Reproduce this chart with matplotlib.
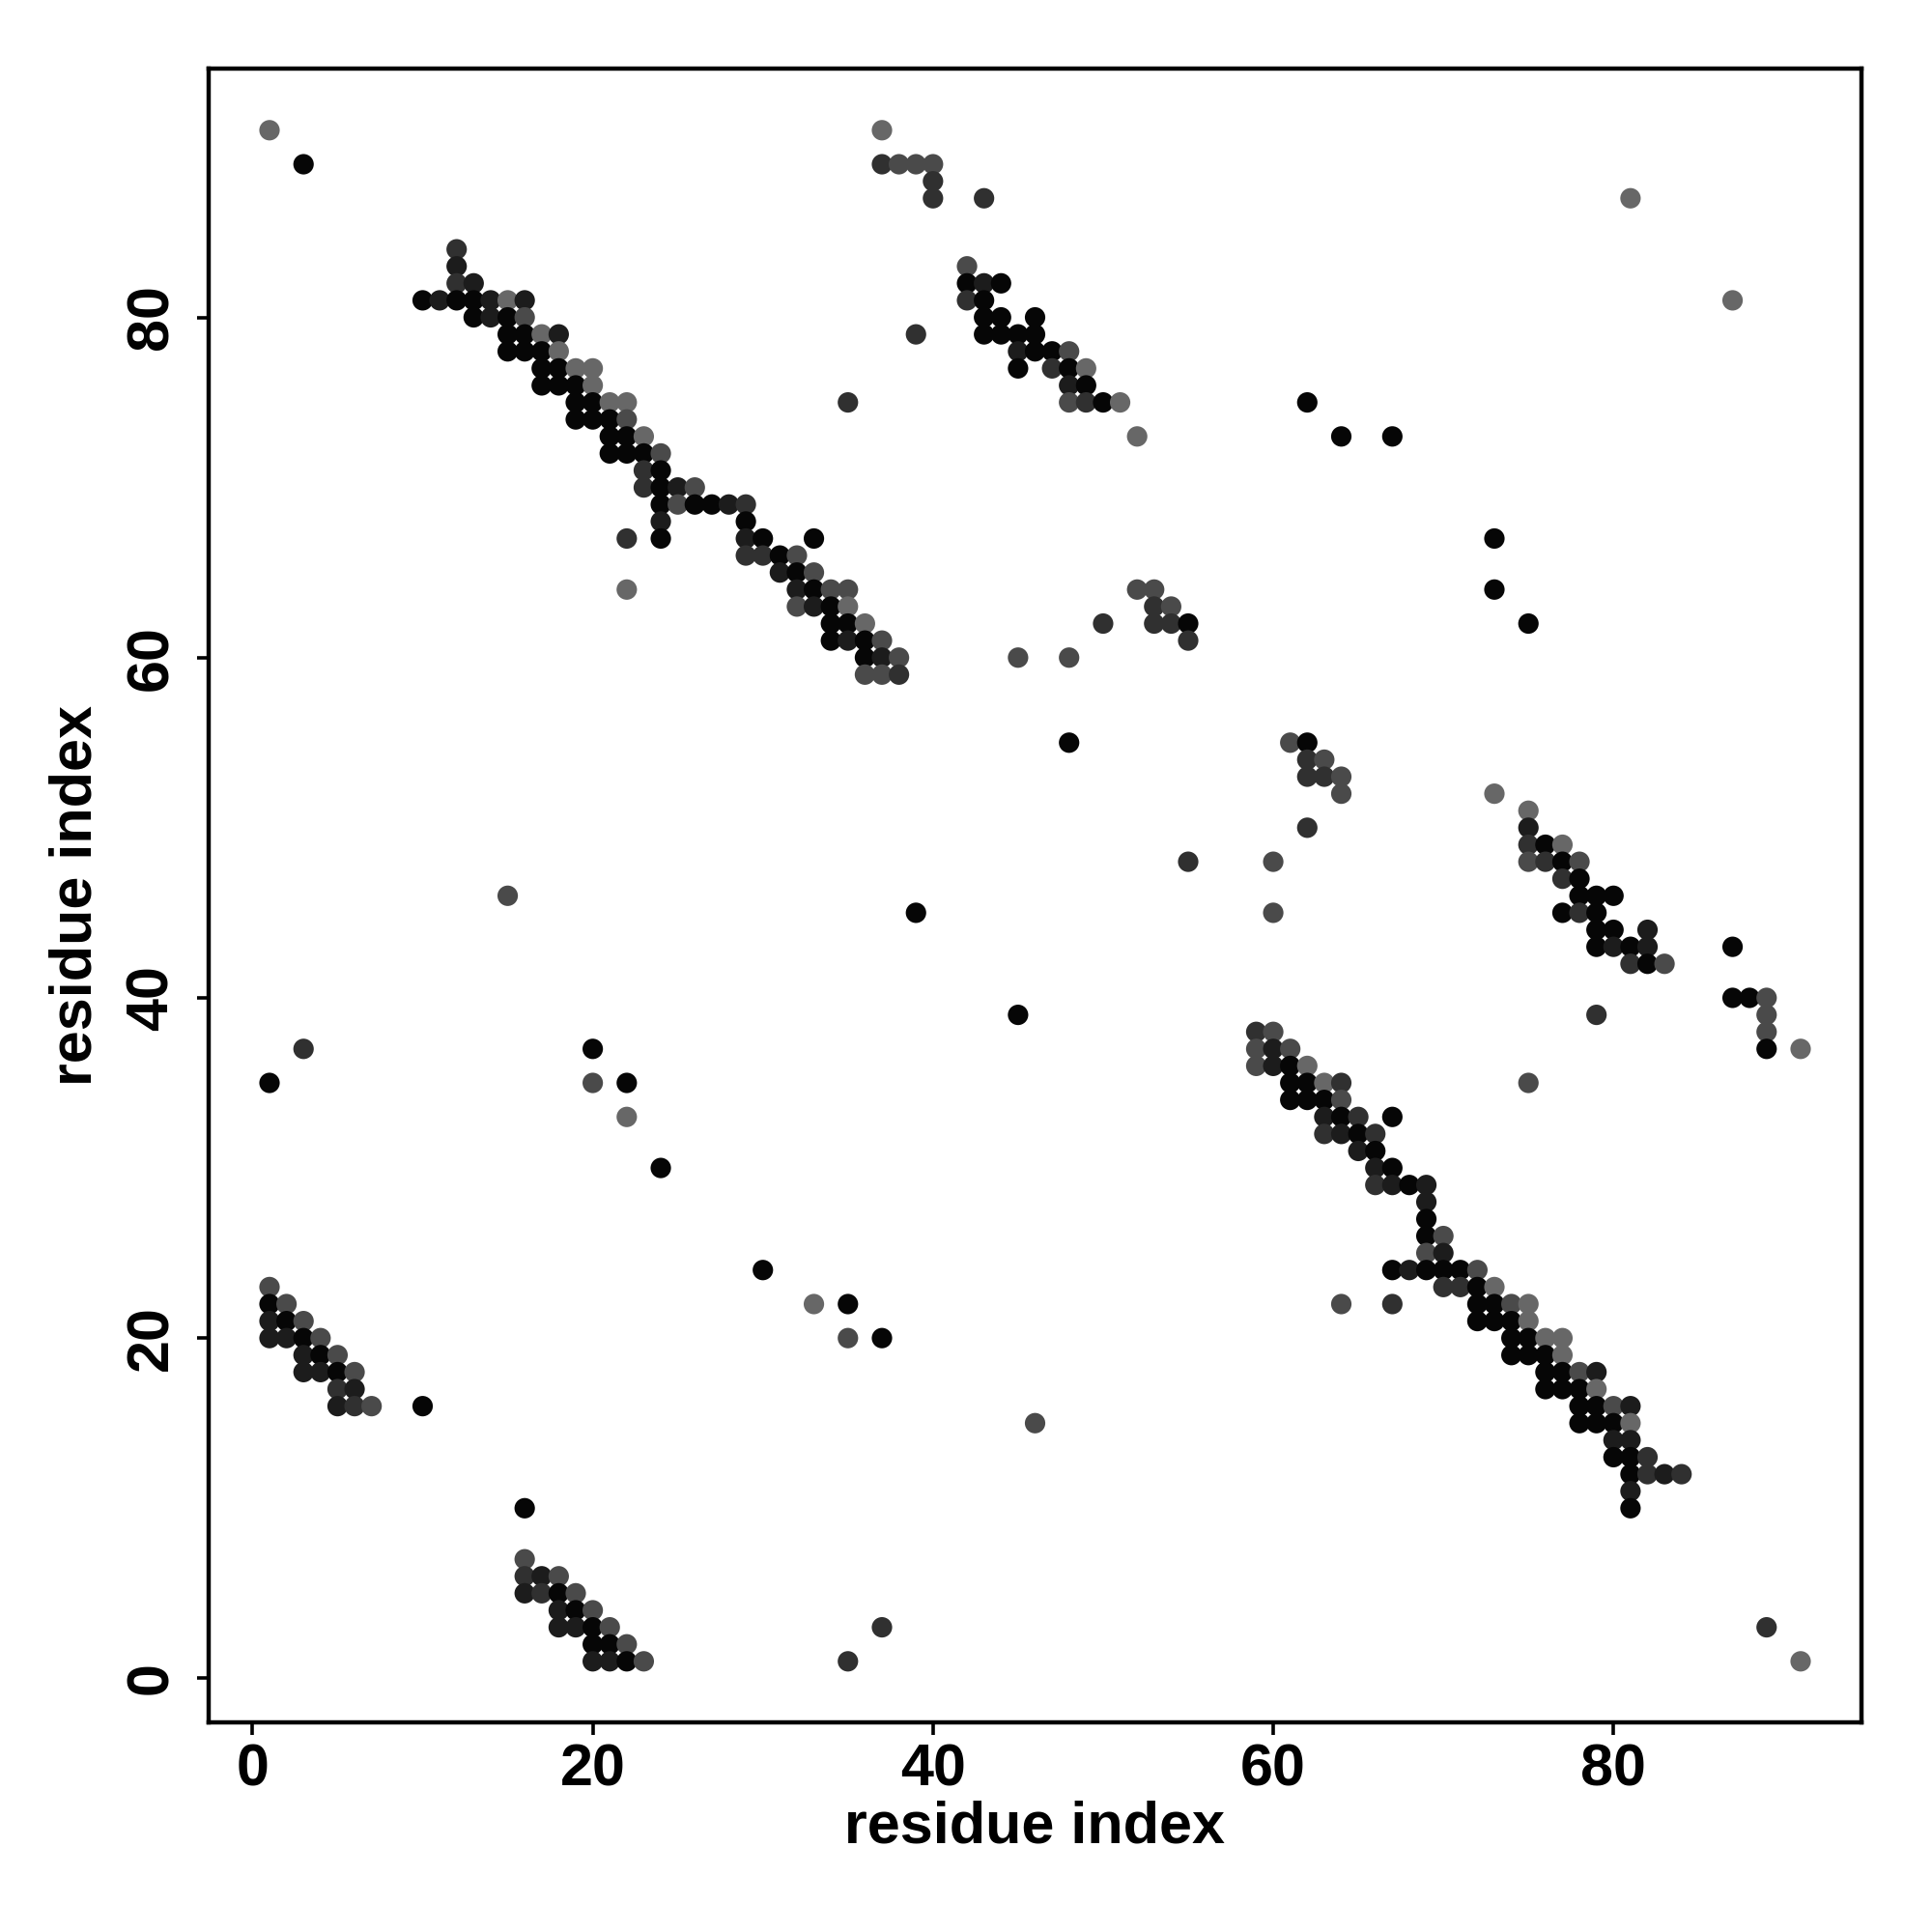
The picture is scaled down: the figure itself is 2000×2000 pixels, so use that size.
import matplotlib
matplotlib.use("Agg")
import matplotlib.pyplot as plt

plt.rcParams['font.family'] = ['Liberation Sans', 'DejaVu Sans']
plt.rcParams['font.weight'] = 'bold'

# grey levels used for the contact points (0 = black ... 4 = light grey)
level_colors = ['#060606', '#1c1c1c', '#303030', '#4a4a4a', '#676767']

# contacts as (i, j, level)
# upper-left band
band_a = [
    (12, 84, 2), (12, 83, 1), (12, 82, 2), (13, 82, 1),
    (10, 81, 0), (11, 81, 1), (12, 81, 0), (13, 81, 0), (14, 81, 1), (15, 81, 4), (16, 81, 1),
    (13, 80, 0), (14, 80, 1), (15, 80, 0), (16, 80, 3),
    (15, 79, 0), (16, 79, 0), (17, 79, 4), (18, 79, 1),
    (15, 78, 0), (16, 78, 0), (17, 78, 0), (18, 78, 4),
    (17, 77, 0), (18, 77, 0), (19, 77, 4), (20, 77, 4),
    (17, 76, 0), (18, 76, 0), (19, 76, 0), (20, 76, 4),
    (19, 75, 0), (20, 75, 0), (21, 75, 4), (22, 75, 4),
    (19, 74, 0), (20, 74, 0), (21, 74, 0), (22, 74, 3),
    (21, 73, 0), (22, 73, 0), (23, 73, 4),
    (21, 72, 0), (22, 72, 0), (23, 72, 0), (24, 72, 3),
    (23, 71, 2), (24, 71, 0),
    (23, 70, 2), (24, 70, 0), (25, 70, 1), (26, 70, 3),
    (24, 69, 0), (25, 69, 3), (26, 69, 0), (27, 69, 0), (28, 69, 1), (29, 69, 2),
    (24, 68, 1), (29, 68, 0),
    (22, 67, 2), (24, 67, 0), (29, 67, 1), (30, 67, 0), (33, 67, 0),
    (29, 66, 2), (30, 66, 2), (31, 66, 0), (32, 66, 3),
    (31, 65, 1), (32, 65, 0), (33, 65, 3),
    (22, 64, 4), (32, 64, 1), (33, 64, 0), (34, 64, 3), (35, 64, 3),
    (32, 63, 3), (33, 63, 1), (34, 63, 0), (35, 63, 4),
    (34, 62, 0), (35, 62, 0), (36, 62, 4),
    (34, 61, 0), (35, 61, 1), (36, 61, 0), (37, 61, 3),
    (36, 60, 0), (37, 60, 1), (38, 60, 3),
    (36, 59, 3), (37, 59, 3), (38, 59, 2),
]

# top middle band
band_b = [
    (37, 91, 4),
    (37, 89, 2), (38, 89, 3), (39, 89, 3), (40, 89, 3),
    (40, 88, 2), (40, 87, 2), (43, 87, 2),
    (42, 83, 3),
    (42, 82, 0), (43, 82, 1), (44, 82, 0),
    (42, 81, 2), (43, 81, 0),
    (43, 80, 0), (44, 80, 0), (46, 80, 0),
    (39, 79, 2), (43, 79, 0), (44, 79, 0), (45, 79, 0), (46, 79, 0),
    (45, 78, 1), (46, 78, 0), (47, 78, 0), (48, 78, 3),
    (45, 77, 0), (47, 77, 2), (48, 77, 0), (49, 77, 4),
    (48, 76, 1), (49, 76, 0),
    (35, 75, 2), (48, 75, 3), (49, 75, 2), (50, 75, 0), (51, 75, 4),
    (52, 73, 4),
]

# small clusters in the middle
band_c = [
    (52, 64, 3), (53, 64, 3),
    (53, 63, 2), (54, 63, 3),
    (50, 62, 2), (53, 62, 2), (54, 62, 2), (55, 62, 0),
    (55, 61, 2),
    (45, 60, 3), (48, 60, 3),
    (61, 55, 3), (62, 55, 0),
    (62, 54, 2), (63, 54, 3),
    (62, 53, 2), (63, 53, 2), (64, 53, 3),
    (64, 52, 3),
    (62, 50, 2),
    (60, 48, 3),
]

# right band
band_d = [
    (73, 52, 4), (75, 51, 4), (75, 50, 1),
    (75, 49, 2), (76, 49, 0), (77, 49, 4),
    (75, 48, 3), (76, 48, 2), (77, 48, 0), (78, 48, 3),
    (77, 47, 2), (78, 47, 0),
    (78, 46, 0), (79, 46, 0), (80, 46, 0),
    (77, 45, 0), (78, 45, 2), (79, 45, 0),
    (79, 44, 0), (80, 44, 0), (82, 44, 1),
    (79, 43, 0), (80, 43, 1), (81, 43, 0), (82, 43, 1),
    (81, 42, 2), (82, 42, 0), (83, 42, 3),
]

# lower-right band
band_e = [
    (59, 38, 2), (60, 38, 3),
    (59, 37, 3), (60, 37, 1), (61, 37, 3),
    (59, 36, 3), (60, 36, 1), (61, 36, 0), (62, 36, 4),
    (61, 35, 0), (62, 35, 0), (63, 35, 4), (64, 35, 2),
    (61, 34, 0), (62, 34, 0), (63, 34, 0), (64, 34, 3),
    (63, 33, 1), (64, 33, 0), (65, 33, 2), (67, 33, 0),
    (63, 32, 2), (64, 32, 1), (65, 32, 0), (66, 32, 2),
    (65, 31, 1), (66, 31, 0),
    (66, 30, 1), (67, 30, 0),
    (66, 29, 2), (67, 29, 1), (68, 29, 0), (69, 29, 1),
    (69, 28, 1), (69, 27, 0),
    (69, 26, 0), (70, 26, 3),
    (69, 25, 3), (70, 25, 1),
    (67, 24, 0), (68, 24, 1), (69, 24, 0), (70, 24, 0), (71, 24, 0), (72, 24, 3),
    (70, 23, 2), (71, 23, 2), (72, 23, 0), (73, 23, 4),
    (64, 22, 3), (67, 22, 2), (72, 22, 0), (73, 22, 0), (74, 22, 3), (75, 22, 4),
    (72, 21, 0), (73, 21, 0), (74, 21, 0), (75, 21, 4),
    (74, 20, 0), (75, 20, 0), (76, 20, 4), (77, 20, 4),
    (74, 19, 0), (75, 19, 0), (76, 19, 0), (77, 19, 4),
    (76, 18, 0), (77, 18, 0), (78, 18, 3), (79, 18, 1),
    (76, 17, 0), (77, 17, 0), (78, 17, 0), (79, 17, 4),
    (78, 16, 0), (79, 16, 0), (80, 16, 3), (81, 16, 1),
    (78, 15, 0), (79, 15, 0), (80, 15, 0), (81, 15, 4),
    (80, 14, 1), (81, 14, 1),
    (80, 13, 0), (81, 13, 0), (82, 13, 2),
    (81, 12, 0), (82, 12, 2), (83, 12, 1), (84, 12, 2),
    (81, 11, 1), (81, 10, 0),
]

# bottom-left bands
band_f = [
    (1, 23, 3),
    (1, 22, 0), (2, 22, 3),
    (1, 21, 1), (2, 21, 0), (3, 21, 3),
    (1, 20, 1), (2, 20, 1), (3, 20, 0), (4, 20, 3),
    (3, 19, 1), (4, 19, 0), (5, 19, 3),
    (3, 18, 1), (4, 18, 1), (5, 18, 0), (6, 18, 3),
    (5, 17, 2), (6, 17, 1),
    (5, 16, 1), (6, 16, 2), (7, 16, 3),
    (16, 7, 3),
    (16, 6, 2), (17, 6, 1), (18, 6, 3),
    (16, 5, 1), (17, 5, 2), (18, 5, 0), (19, 5, 3),
    (18, 4, 1), (19, 4, 0), (20, 4, 3),
    (18, 3, 1), (19, 3, 1), (20, 3, 0), (21, 3, 3),
    (20, 2, 0), (21, 2, 0), (22, 2, 3),
    (20, 1, 1), (21, 1, 1), (22, 1, 0), (23, 1, 3),
]

# isolated contacts
singles = [
    (1, 91, 4), (3, 89, 0), (81, 87, 4), (87, 81, 4),
    (62, 75, 0), (64, 73, 0), (67, 73, 0), (73, 67, 0), (73, 64, 0), (75, 62, 0),
    (48, 55, 0), (55, 48, 2), (60, 45, 3), (15, 46, 3), (39, 45, 0), (45, 39, 0),
    (79, 39, 2), (75, 35, 3), (87, 43, 0),
    (87, 40, 0), (88, 40, 0), (89, 40, 3), (89, 39, 3), (89, 38, 3), (89, 37, 0), (91, 37, 4),
    (1, 35, 0), (3, 37, 2), (20, 37, 0), (20, 35, 3), (22, 35, 0), (22, 33, 4),
    (24, 30, 0), (30, 24, 0), (33, 22, 4), (35, 22, 0), (35, 20, 3), (37, 20, 0),
    (10, 16, 0), (46, 15, 3), (16, 10, 0),
    (37, 3, 2), (35, 1, 2), (89, 3, 2), (91, 1, 4),
]

contacts = band_a + band_b + band_c + band_d + band_e + band_f + singles
xs = [c[0] for c in contacts]
ys = [c[1] for c in contacts]
cols = [level_colors[c[2]] for c in contacts]

fig = plt.figure(figsize=(10, 10), dpi=200)
ax = fig.add_axes([0.1078, 0.1084, 0.8559, 0.8559])

ax.scatter(xs, ys, s=58, c=cols, linewidths=0, zorder=3)

ax.set_xlim(-2.6, 94.6)
ax.set_ylim(-2.6, 94.6)
ax.set_xticks([0, 20, 40, 60, 80])
ax.set_yticks([0, 20, 40, 60, 80])
ax.tick_params(direction='out', length=4.5, width=1.3, labelsize=22)
ax.tick_params(axis='x', pad=3)
ax.tick_params(axis='y', pad=6)
for lab in ax.get_yticklabels():
    lab.set_rotation(90)
    lab.set_va('center')
for sp in ax.spines.values():
    sp.set_linewidth(1.6)

ax.set_xlabel('residue index', fontsize=22, fontweight='bold', va='center')
ax.set_ylabel('residue index', fontsize=22, fontweight='bold', va='center')
ax.xaxis.set_label_coords(0.5, -0.0636)
ax.yaxis.set_label_coords(-0.0798, 0.5)

fig.savefig('out.png', dpi=200, facecolor='white')
